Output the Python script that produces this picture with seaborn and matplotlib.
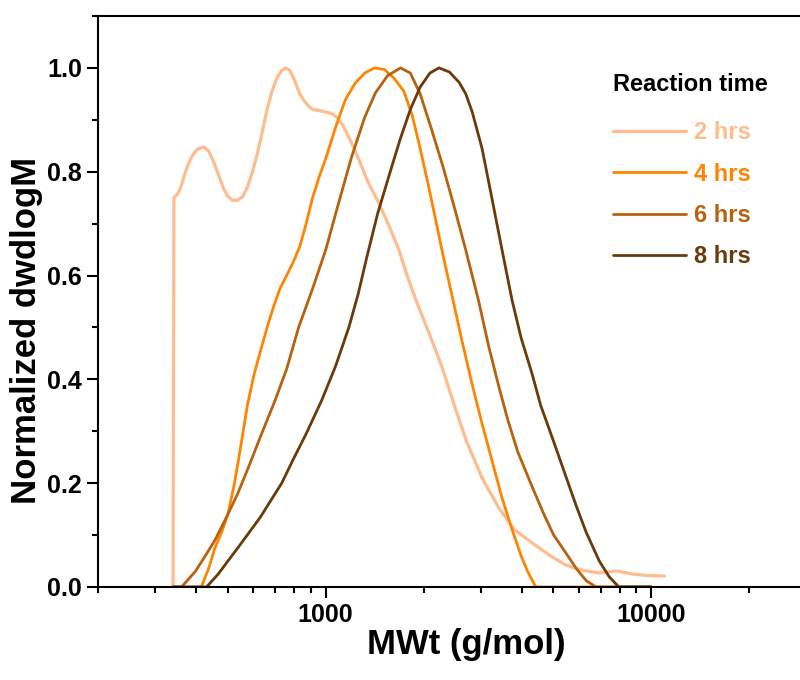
import matplotlib
matplotlib.use('Agg')
import matplotlib.pyplot as plt
import seaborn as sns
import numpy as np
from matplotlib.ticker import LogLocator, NullFormatter, FuncFormatter, MultipleLocator

sns.set_style('ticks')
plt.rcParams['font.family'] = ['Liberation Sans', 'DejaVu Sans']
plt.rcParams['font.weight'] = 'bold'
plt.rcParams['axes.labelweight'] = 'bold'
plt.rcParams['text.color'] = 'black'
plt.rcParams['axes.labelcolor'] = 'black'

# GPC curves (MWt in g/mol, normalized dw/dlogM)
mw_2h = [340, 342, 351, 359, 367, 376, 389, 403, 422, 437, 452, 468, 484, 501, 519, 536, 556, 575,
         596, 617, 638, 661, 684, 708, 733, 753, 776, 804, 826, 851, 881, 912, 951, 1000, 1042,
         1084, 1135, 1202, 1265, 1349, 1455, 1567, 1679, 1778, 1892, 2089, 2275, 2483, 2698, 3020,
         3404, 3802, 4305, 4898, 5470, 6166, 6918, 7345, 7798, 8222, 8750, 9772, 10965]
val_2h = [0.0, 0.75, 0.757, 0.77, 0.79, 0.81, 0.83, 0.843, 0.848, 0.84, 0.82, 0.795, 0.77, 0.752,
          0.745, 0.745, 0.752, 0.77, 0.80, 0.835, 0.875, 0.92, 0.955, 0.98, 0.995, 1.0, 0.995,
          0.975, 0.955, 0.94, 0.928, 0.92, 0.918, 0.915, 0.912, 0.905, 0.887, 0.855, 0.823, 0.78,
          0.74, 0.695, 0.649, 0.60, 0.553, 0.485, 0.424, 0.35, 0.283, 0.21, 0.152, 0.11, 0.085,
          0.06, 0.042, 0.032, 0.027, 0.029, 0.031, 0.028, 0.025, 0.022, 0.021]

mw_4h = [340, 415, 437, 457, 479, 501, 525, 550, 575, 603, 631, 661, 692, 724, 759, 794, 832, 871,
         912, 955, 1000, 1072, 1148, 1230, 1318, 1413, 1514, 1622, 1738, 1841, 1950, 2065, 2188,
         2291, 2455, 2630, 2818, 3020, 3236, 3467, 3715, 3981, 4169, 4416, 10000]
val_4h = [0.0, 0.0, 0.035, 0.075, 0.105, 0.14, 0.2, 0.275, 0.35, 0.41, 0.455, 0.5, 0.54, 0.575,
          0.60, 0.625, 0.655, 0.70, 0.75, 0.79, 0.825, 0.885, 0.938, 0.97, 0.99, 1.0, 0.997, 0.98,
          0.955, 0.91, 0.845, 0.775, 0.70, 0.64, 0.555, 0.47, 0.39, 0.315, 0.245, 0.175, 0.115,
          0.06, 0.03, 0.0, 0.0]

mw_6h = [340, 361, 398, 427, 457, 501, 537, 579, 631, 700, 759, 826, 912, 1000, 1096, 1202, 1318,
         1422, 1549, 1698, 1820, 1950, 2118, 2291, 2512, 2692, 2951, 3162, 3404, 3631, 3890, 4305,
         4677, 5012, 5470, 5888, 6310, 6761, 10000]
val_6h = [0.0, 0.0, 0.03, 0.06, 0.09, 0.14, 0.18, 0.23, 0.29, 0.36, 0.42, 0.50, 0.575, 0.649, 0.74,
          0.829, 0.905, 0.952, 0.985, 1.0, 0.99, 0.95, 0.88, 0.81, 0.72, 0.649, 0.55, 0.465, 0.385,
          0.32, 0.26, 0.193, 0.14, 0.10, 0.065, 0.035, 0.012, 0.0, 0.0]

mw_8h = [340, 431, 468, 501, 537, 579, 631, 676, 733, 794, 871, 973, 1072, 1178, 1259, 1337, 1445,
         1596, 1698, 1820, 1950, 2089, 2228, 2399, 2570, 2692, 2818, 3020, 3236, 3480, 3733, 3981,
         4305, 4571, 5012, 5470, 5888, 6310, 6918, 7413, 7943, 10000]
val_8h = [0.0, 0.0, 0.025, 0.05, 0.075, 0.103, 0.135, 0.165, 0.20, 0.245, 0.295, 0.36, 0.425, 0.50,
          0.565, 0.635, 0.72, 0.81, 0.865, 0.92, 0.963, 0.99, 1.0, 0.992, 0.972, 0.95, 0.915,
          0.845, 0.75, 0.649, 0.553, 0.48, 0.41, 0.35, 0.28, 0.212, 0.155, 0.105, 0.05, 0.02,
          0.0, 0.0]

labels = ['2 hrs', '4 hrs', '6 hrs', '8 hrs']
colors = ['#FFBC8F', '#FF8400', '#B8610F', '#6B3A0B']
widths = [2.3, 2.0, 2.0, 2.0]
series = [(mw_2h, val_2h), (mw_4h, val_4h), (mw_6h, val_6h), (mw_8h, val_8h)]

fig = plt.figure(figsize=(8, 6.8), dpi=100)
ax = fig.add_axes([0.1225, 0.1368, 0.886, 0.8397])

for (x, y), lab, c, w in zip(series, labels, colors, widths):
    sns.lineplot(x=x, y=y, ax=ax, color=c, lw=w, label=lab, sort=False, estimator=None)

ax.set_xscale('log')
ax.set_xlim(200, 30000)
ax.set_ylim(0, 1.1)

ax.xaxis.set_major_locator(LogLocator(base=10))
ax.xaxis.set_major_formatter(FuncFormatter(lambda v, p: f'{int(round(v))}'))
ax.xaxis.set_minor_locator(LogLocator(base=10, subs=np.arange(2, 10), numticks=20))
ax.xaxis.set_minor_formatter(NullFormatter())
ax.yaxis.set_major_locator(MultipleLocator(0.2))
ax.yaxis.set_minor_locator(MultipleLocator(0.1))
ax.yaxis.set_major_formatter(FuncFormatter(lambda v, p: f'{v:.1f}'))

for s in ax.spines.values():
    s.set_linewidth(1.5)
    s.set_color('black')
ax.tick_params(which='major', direction='out', length=8, width=1.5, labelsize=18,
               color='black', labelcolor='black', top=False, right=False)
ax.tick_params(which='minor', direction='out', length=4.5, width=1.5, color='black',
               top=False, right=False)

ax.set_xlabel('MWt (g/mol)', fontsize=25)
ax.set_ylabel('Normalized dwdlogM', fontsize=25)
ax.xaxis.set_label_coords(0.52, -0.071)
ax.yaxis.set_label_coords(-0.078, 0.45)

leg = ax.legend(title='Reaction time', loc='upper left', bbox_to_anchor=(0.697, 0.937),
                frameon=False, fontsize=17, title_fontsize=17, handlelength=3.1,
                handletextpad=0.3, labelspacing=0.78)
leg.get_title().set_fontweight('bold')
leg._legend_box.align = 'left'
leg._legend_box.sep = 18
for txt, c in zip(leg.get_texts(), colors):
    txt.set_color(c)
    txt.set_fontweight('bold')

fig.savefig('out.png', dpi=100)
